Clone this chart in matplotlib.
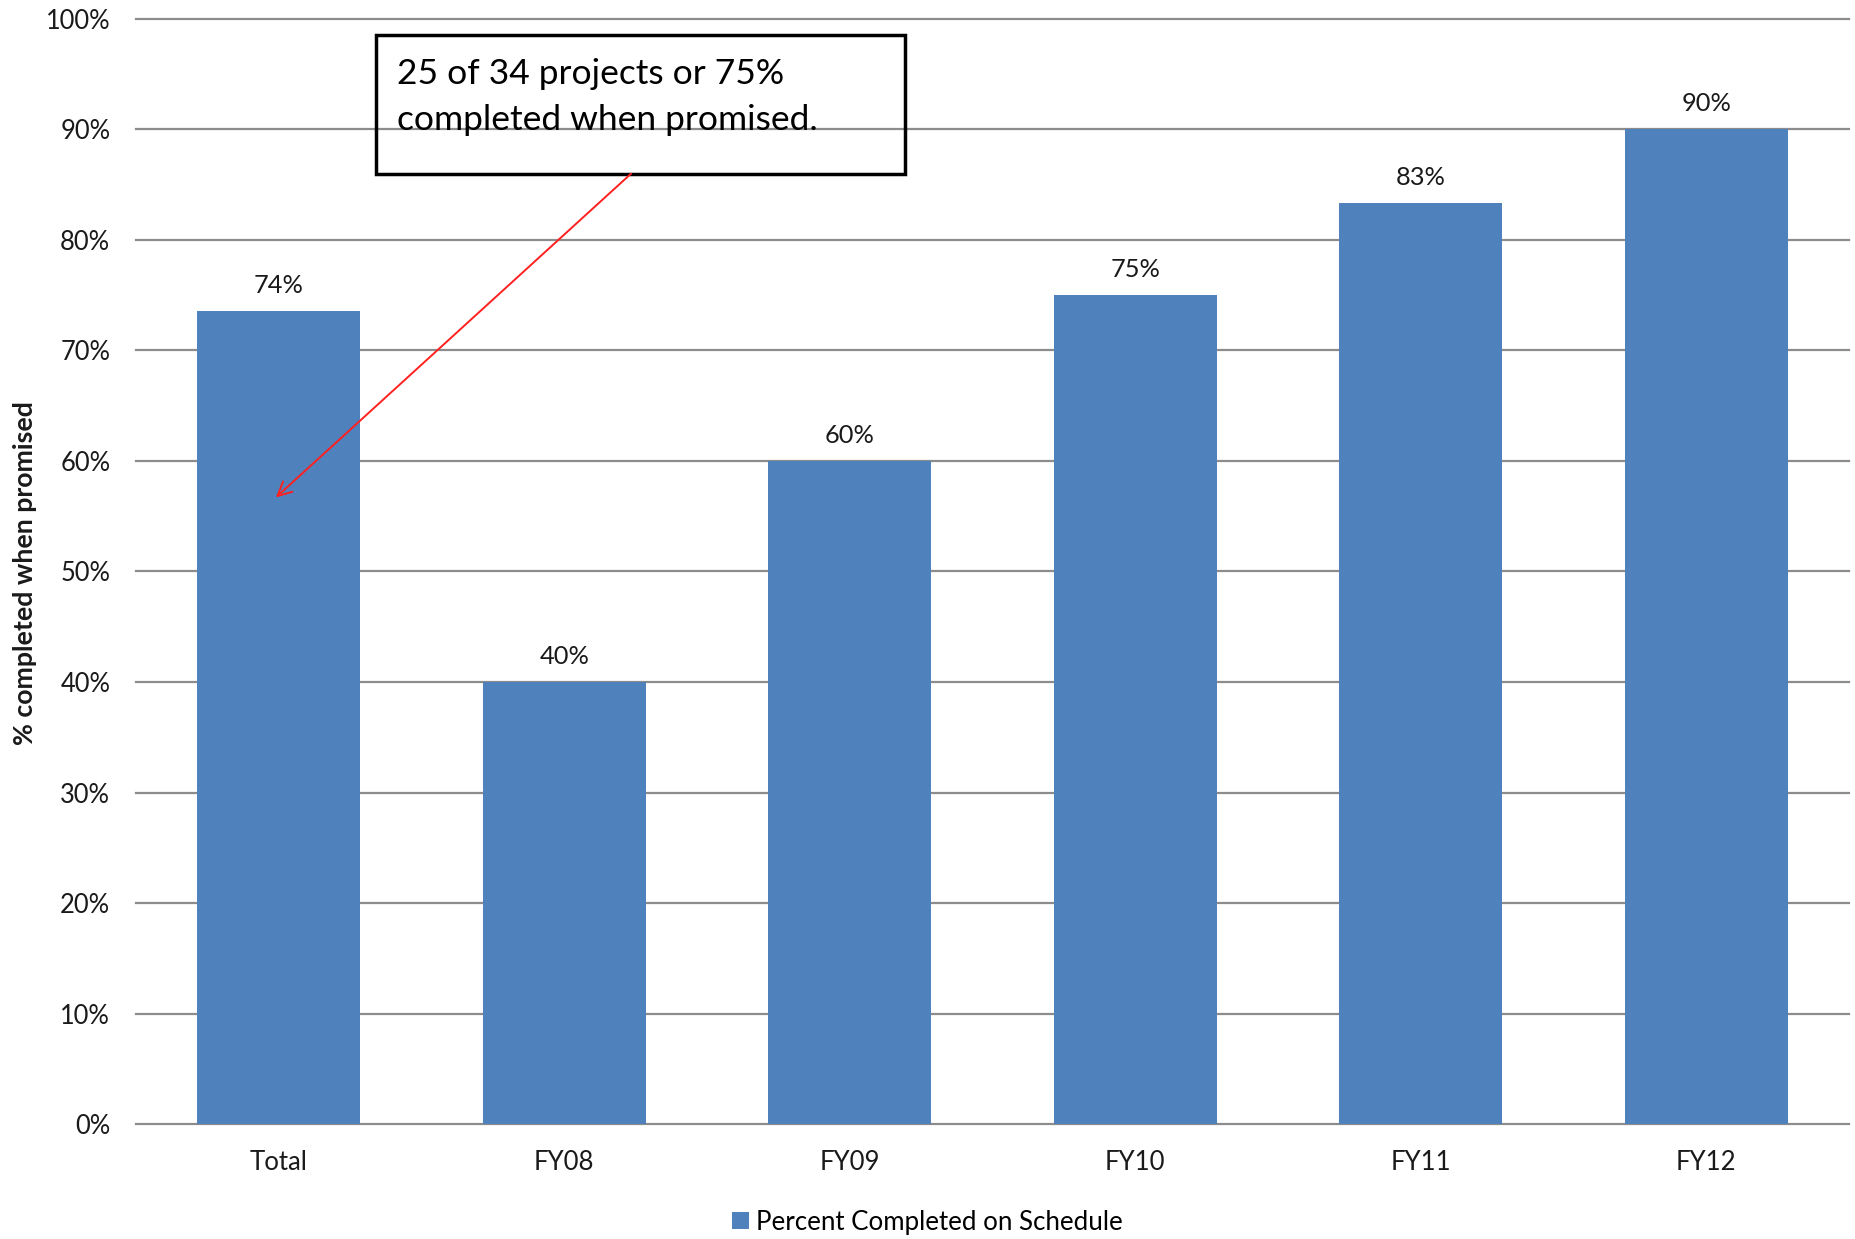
import matplotlib
matplotlib.use("Agg")
import matplotlib.pyplot as plt
from matplotlib.patches import Rectangle, Patch

categories = ["Total", "FY08", "FY09", "FY10", "FY11", "FY12"]
pct_on_schedule = [25 / 34, 0.40, 0.60, 0.75, 5 / 6, 0.90]
y_ticks = [0.0, 0.1, 0.2, 0.3, 0.4, 0.5, 0.6, 0.7, 0.8, 0.9, 1.0]
series_name = "Percent Completed on Schedule"
y_title = "% completed when promised"
callout = "25 of 34 projects or 75%\ncompleted when promised."

plt.rcParams["font.family"] = ["Lato", "DejaVu Sans"]
BAR = "#4F81BD"
GRID = "#8C8C8C"
INK = "#1A1A1A"

fig = plt.figure(figsize=(18.55, 12.39), dpi=100)
ax = fig.add_axes([0.0733, 0.0928, 0.9235, 0.8919])

x = list(range(len(categories)))
ax.bar(x, pct_on_schedule, width=0.57, color=BAR, zorder=2)

for xi, v in zip(x, pct_on_schedule):
    ax.text(xi, v + 0.013, f"{v:.0%}", ha="center", va="bottom",
            fontsize=18.3, color=INK)

ax.set_xlim(-0.5, len(categories) - 0.5)
ax.set_ylim(0, 1)
ax.set_yticks(y_ticks)
ax.set_yticklabels([f"{t:.0%}" for t in y_ticks])
ax.set_xticks(x)
ax.set_xticklabels(categories)
ax.tick_params(axis="y", length=0, pad=18.5, labelsize=18.4, labelcolor=INK)
ax.tick_params(axis="x", length=0, pad=19, labelsize=18.5, labelcolor=INK)
for s in ax.spines.values():
    s.set_visible(False)
ax.yaxis.grid(True, color=GRID, linewidth=1.6, zorder=0, clip_on=False)
ax.set_axisbelow(True)

fig.text(0.0135, 0.5375, y_title, rotation=90, ha="center", va="center",
         fontsize=19.3, fontweight="bold", color=INK)

# callout box with arrow to the Total bar
ax.add_patch(Rectangle((0.341, 0.86), 1.852, 0.1255, fill=False,
                       edgecolor="black", linewidth=2.5, zorder=5, clip_on=False))
ax.text(0.414, 0.965, callout, ha="left", va="top", fontsize=25.5,
        linespacing=1.55, color="black", zorder=6)
ax.annotate("", xy=(-0.01, 0.567), xytext=(1.234, 0.86),
            arrowprops=dict(arrowstyle="->", color="#FF2020", lw=1.4,
                            mutation_scale=25, shrinkA=0, shrinkB=0),
            zorder=6)

fig.legend(handles=[Patch(facecolor=BAR, label=series_name)],
           loc="center", bbox_to_anchor=(0.5, 0.0135), frameon=False,
           fontsize=18.6, handlelength=0.65, handleheight=0.65,
           handletextpad=0.3)

fig.savefig("out.png", dpi=100, facecolor="white")
